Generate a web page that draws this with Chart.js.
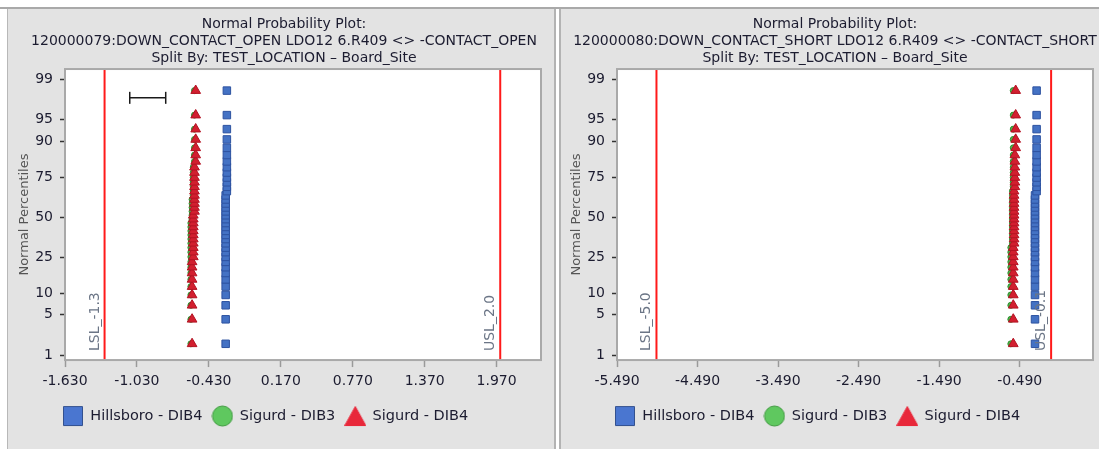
<!DOCTYPE html>
<html>
<head>
<meta charset="utf-8">
<script src="https://cdn.jsdelivr.net/npm/chart.js@4.4.0/dist/chart.umd.min.js"></script>
<style>
  html, body { margin: 0; padding: 0; background: #fff; overflow: hidden; }
  #page { position: relative; width: 1099px; height: 449px; overflow: hidden; background: #fff; }
  #topRule { position: absolute; left: 0; top: 7px; width: 1099px; height: 2px; background: #a9a9a9; }
  .panel { position: absolute; top: 9px; height: 440px; background: #e3e3e3; box-sizing: border-box; }
  #panelOpen { left: 7px; width: 549px; border-left: 1px solid #b8b8b8; border-right: 2px solid #b3b3b3; }
  #panelShort { left: 559px; width: 545px; border-left: 2px solid #b3b3b3; }
  canvas { position: absolute; top: 10px; }
  #chartOpen { left: 0; }
  #chartShort { left: 559px; }
</style>
</head>
<body>
<div id="page">
  <div id="topRule"></div>
  <div class="panel" id="panelOpen"></div>
  <div class="panel" id="panelShort"></div>
  <canvas id="chartOpen" width="568" height="437"></canvas>
  <canvas id="chartShort" width="552" height="437"></canvas>
</div>
<script>
// shared axis / legend values
const pctTicks = [1, 5, 10, 25, 50, 75, 90, 95, 99];
const zRange = [-2.41, 2.50];
const seriesNames = ['Hillsboro - DIB4', 'Sigurd - DIB3', 'Sigurd - DIB4'];
const splitLine = 'Split By: TEST_LOCATION \u2013 Board_Site';

// left plot: CONTACT_OPEN (sorted measurements per group)
const openTitle = ['Normal Probability Plot:', '120000079:DOWN_CONTACT_OPEN LDO12 6.R409 <> -CONTACT_OPEN', splitLine];
const openXRange = [-1.63, 2.34];
const openXTicks = [-1.63, -1.03, -0.43, 0.17, 0.77, 1.37, 1.97];
const openHills = [
  -0.29, -0.29, -0.29, -0.29, -0.29, -0.29, -0.29, -0.29, -0.29, -0.29,
  -0.29, -0.29, -0.29, -0.29, -0.29, -0.29, -0.29, -0.29, -0.29, -0.29,
  -0.29, -0.29, -0.29, -0.29, -0.29, -0.28, -0.28, -0.28, -0.28, -0.28,
  -0.28, -0.28, -0.28, -0.28, -0.28, -0.28, -0.28, -0.28];
const openSig3 = [
  -0.58, -0.58, -0.58, -0.58, -0.58, -0.58, -0.58, -0.58, -0.58, -0.58,
  -0.58, -0.58, -0.58, -0.58, -0.58, -0.58, -0.58, -0.58, -0.57, -0.57,
  -0.57, -0.57, -0.57, -0.57, -0.56, -0.56, -0.56, -0.56, -0.56, -0.56,
  -0.56, -0.55, -0.55, -0.55, -0.55, -0.55, -0.55, -0.55];
const openSig4 = [
  -0.57, -0.57, -0.57, -0.57, -0.57, -0.57, -0.57, -0.57, -0.57, -0.56,
  -0.56, -0.56, -0.56, -0.56, -0.56, -0.56, -0.56, -0.56, -0.56, -0.56,
  -0.55, -0.55, -0.55, -0.55, -0.55, -0.55, -0.55, -0.55, -0.55, -0.55,
  -0.55, -0.54, -0.54, -0.54, -0.54, -0.54, -0.54, -0.54];
const openLimits = [['LSL_-1.3', -1.3], ['USL_2.0', 2.0]];
const openBar = [-1.09, -0.79];
const openBarPct = 97.8;

// right plot: CONTACT_SHORT
const shortTitle = ['Normal Probability Plot:', '120000080:DOWN_CONTACT_SHORT LDO12 6.R409 <> -CONTACT_SHORT', splitLine];
const shortXRange = [-5.49, 0.42];
const shortXTicks = [-5.49, -4.49, -3.49, -2.49, -1.49, -0.49];
const shortHills = [
  -0.30, -0.30, -0.30, -0.30, -0.30, -0.30, -0.30, -0.30, -0.30, -0.30,
  -0.30, -0.30, -0.30, -0.30, -0.30, -0.30, -0.30, -0.30, -0.30, -0.30,
  -0.30, -0.30, -0.30, -0.30, -0.30, -0.28, -0.28, -0.28, -0.28, -0.28,
  -0.28, -0.28, -0.28, -0.28, -0.28, -0.28, -0.28, -0.28];
const shortSig3 = [
  -0.60, -0.60, -0.60, -0.60, -0.60, -0.60, -0.60, -0.60, -0.60, -0.60,
  -0.60, -0.60, -0.58, -0.58, -0.58, -0.58, -0.58, -0.58, -0.58, -0.58,
  -0.58, -0.58, -0.58, -0.58, -0.58, -0.58, -0.57, -0.57, -0.57, -0.57,
  -0.57, -0.57, -0.57, -0.57, -0.57, -0.57, -0.57, -0.57];
const shortSig4 = [
  -0.57, -0.57, -0.57, -0.57, -0.57, -0.57, -0.57, -0.57, -0.57, -0.57,
  -0.57, -0.57, -0.56, -0.56, -0.56, -0.56, -0.56, -0.56, -0.56, -0.56,
  -0.56, -0.56, -0.56, -0.56, -0.56, -0.56, -0.55, -0.55, -0.55, -0.55,
  -0.55, -0.55, -0.55, -0.54, -0.54, -0.54, -0.54, -0.54];
const shortLimits = [['LSL_-5.0', -5.0], ['USL_-0.1', -0.1]];

Chart.defaults.font.family = "'DejaVu Sans', sans-serif";
Chart.defaults.color = '#1c1c30';

// inverse normal CDF (Acklam)
function normInv(p) {
  const a = [-39.69683028665376, 220.9460984245205, -275.9285104469687, 138.3577518672690, -30.66479806614716, 2.506628277459239];
  const b = [-54.47609879822406, 161.5858368580409, -155.6989798598866, 66.80131188771972, -13.28068155288572];
  const c = [-0.007784894002430293, -0.3223964580411365, -2.400758277161838, -2.549732539343734, 4.374664141464968, 2.938163982698783];
  const d = [0.007784695709041462, 0.3224671290700398, 2.445134137142996, 3.754408661907416];
  const tail = q => (((((c[0] * q + c[1]) * q + c[2]) * q + c[3]) * q + c[4]) * q + c[5]) / ((((d[0] * q + d[1]) * q + d[2]) * q + d[3]) * q + 1);
  if (p < 0.02425) return tail(Math.sqrt(-2 * Math.log(p)));
  if (p > 1 - 0.02425) return -tail(Math.sqrt(-2 * Math.log(1 - p)));
  const q = p - 0.5, r = q * q;
  return (((((a[0] * r + a[1]) * r + a[2]) * r + a[3]) * r + a[4]) * r + a[5]) * q /
    (((((b[0] * r + b[1]) * r + b[2]) * r + b[3]) * r + b[4]) * r + 1);
}

// normal probability plot: each sorted value goes to the normal score of its rank (Blom)
function normalScores(values) {
  const n = values.length;
  return values.map((v, i) => ({ x: v, y: normInv((i + 1 - 0.375) / (n + 0.25)) }));
}

function legendIcon(shape, fill, stroke) {
  const c = document.createElement('canvas');
  c.width = 22; c.height = 22;
  const g = c.getContext('2d');
  g.fillStyle = fill; g.strokeStyle = stroke; g.lineWidth = 1;
  g.beginPath();
  if (shape === 'square') g.rect(1.5, 1.5, 19, 19);
  else if (shape === 'circle') g.arc(11, 11, 10, 0, Math.PI * 2);
  else { g.moveTo(11, 1.5); g.lineTo(21.5, 20.5); g.lineTo(0.5, 20.5); g.closePath(); }
  g.fill(); g.stroke();
  return c;
}
const icons = [
  legendIcon('square', '#4a76d0', '#33518f'),
  legendIcon('circle', '#5fc85f', '#3f9a3f'),
  legendIcon('triangle', '#e8283a', '#e8283a')
];

// white plot area + grey frame
const plotFrame = {
  id: 'plotFrame',
  beforeDraw(chart) {
    const { ctx, chartArea: a } = chart;
    ctx.save();
    ctx.fillStyle = '#fff';
    ctx.fillRect(a.left, a.top, a.width, a.height);
    ctx.restore();
  },
  afterDraw(chart) {
    const { ctx, chartArea: a } = chart;
    ctx.save();
    ctx.strokeStyle = '#a9a9a9';
    ctx.lineWidth = 2;
    ctx.strokeRect(a.left, a.top, a.width, a.height);
    ctx.restore();
  }
};

// rotated LSL / USL captions next to the red lines
const specLabels = {
  id: 'specLabels',
  afterDatasetsDraw(chart, args, opts) {
    const { ctx, chartArea, scales } = chart;
    ctx.save();
    ctx.font = "14px 'DejaVu Sans', sans-serif";
    ctx.fillStyle = '#6b7586';
    ctx.textBaseline = 'alphabetic';
    opts.items.forEach(([text, value]) => {
      ctx.save();
      ctx.translate(scales.x.getPixelForValue(value) - 6, chartArea.bottom - 9);
      ctx.rotate(-Math.PI / 2);
      ctx.fillText(text, 0, 0);
      ctx.restore();
    });
    ctx.restore();
  }
};

// start the legend row at the left edge of the plot
const legendNudge = {
  id: 'legendNudge',
  afterLayout(chart, args, opts) {
    chart.legend.left += opts.dx;
    chart.legend.right += opts.dx;
  }
};

function makeChart(id, p) {
  const datasets = [
    { label: seriesNames[0], data: normalScores(p.hills), pointStyle: 'rect', pointRadius: 5.3,
      backgroundColor: '#4472c4', borderColor: '#2d52a0', borderWidth: 1, order: 0, legendIcon: icons[0] },
    { label: seriesNames[1], data: normalScores(p.sig3), pointStyle: 'circle', pointRadius: 3,
      backgroundColor: '#4db34d', borderColor: '#2f8f2f', borderWidth: 1, order: 2, legendIcon: icons[1] },
    { label: seriesNames[2], data: normalScores(p.sig4), pointStyle: 'triangle', pointRadius: 5.6,
      backgroundColor: '#d21f2f', borderColor: '#b31222', borderWidth: 1, order: 1, legendIcon: icons[2] }
  ];
  p.limits.forEach(([name, v]) => {
    datasets.push({ label: name, data: [{ x: v, y: zRange[0] }, { x: v, y: zRange[1] }], showLine: true,
      borderColor: '#ff1a1a', borderWidth: 2, pointRadius: 0, order: 3 });
  });
  if (p.bar) {
    const z = normInv(p.barPct / 100);
    datasets.push({ label: 'range', data: p.bar.map(v => ({ x: v, y: z })), showLine: true,
      borderColor: '#1a1a1a', borderWidth: 1.5, pointStyle: 'line', pointRotation: 90, pointRadius: 6,
      pointBorderColor: '#1a1a1a', pointBorderWidth: 1.5, order: 0 });
  }

  return new Chart(document.getElementById(id), {
    type: 'scatter',
    data: { datasets },
    plugins: [plotFrame, specLabels, legendNudge],
    options: {
      responsive: false,
      animation: false,
      events: [],
      layout: { padding: { top: 0, bottom: 13.7, left: 0, right: 0 } },
      scales: {
        x: {
          type: 'linear', min: p.xRange[0], max: p.xRange[1],
          afterBuildTicks: s => { s.ticks = p.xTicks.map(v => ({ value: v })); },
          afterFit: s => { s.height = 38.75; },
          grid: { drawOnChartArea: false, tickLength: 7, tickColor: '#9a9a9a', tickWidth: 1.5 },
          border: { display: false },
          ticks: { autoSkip: false, maxRotation: 0, padding: 6, font: { size: 14 }, callback: v => v.toFixed(3) }
        },
        y: {
          type: 'linear', min: zRange[0], max: zRange[1],
          afterBuildTicks: s => { s.ticks = pctTicks.map(q => ({ value: normInv(q / 100) })); },
          afterFit: s => { s.width = p.yAxisWidth; },
          grid: { drawOnChartArea: false, tickLength: 5, tickColor: '#333', tickWidth: 1.5 },
          border: { display: false },
          ticks: { padding: 7, font: { size: 14 }, callback: (v, i) => String(pctTicks[i]) },
          title: { display: true, text: 'Normal Percentiles', color: '#555', font: { size: 13 },
            padding: { top: p.yTitlePad, bottom: 0 } }
        },
        y2: {
          position: 'right',
          grid: { display: false }, border: { display: false }, ticks: { display: false },
          afterFit: s => { s.width = p.rightGap; }
        }
      },
      plugins: {
        title: {
          display: true, text: p.title, color: '#1c1c30',
          font: { size: 14, weight: 'normal', lineHeight: 1.215 },
          padding: { top: 5.5, bottom: 2.5 }
        },
        legend: {
          position: 'bottom', align: 'start', fullSize: false,
          labels: {
            usePointStyle: true, pointStyleWidth: 20, padding: 10, color: '#1c1c30',
            font: { size: 14.5 },
            generateLabels: chart => chart.data.datasets
              .map((ds, i) => ({ text: ds.label, pointStyle: ds.legendIcon, datasetIndex: i, hidden: false,
                fontColor: '#1c1c30', lineWidth: 0, strokeStyle: 'transparent', fillStyle: 'transparent' }))
              .filter(item => item.pointStyle)
          }
        },
        tooltip: { enabled: false },
        specLabels: { items: p.limits },
        legendNudge: { dx: -12 }
      }
    }
  });
}

makeChart('chartOpen', {
  title: openTitle, xRange: openXRange, xTicks: openXTicks,
  hills: openHills, sig3: openSig3, sig4: openSig4, limits: openLimits,
  bar: openBar, barPct: openBarPct,
  yAxisWidth: 65, rightGap: 27, yTitlePad: 17.2
});

makeChart('chartShort', {
  title: shortTitle, xRange: shortXRange, xTicks: shortXTicks,
  hills: shortHills, sig3: shortSig3, sig4: shortSig4, limits: shortLimits,
  yAxisWidth: 58, rightGap: 18, yTitlePad: 10.2
});
</script>
</body>
</html>
